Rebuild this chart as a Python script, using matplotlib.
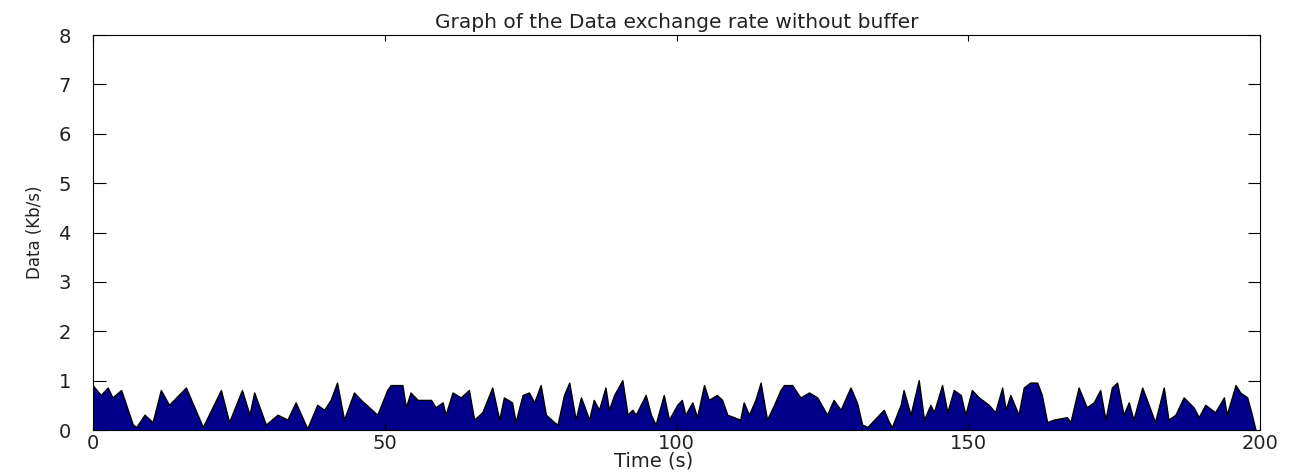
import matplotlib
matplotlib.use('Agg')
import matplotlib.pyplot as plt

# breakpoints of the data rate curve (time in s, rate in Kb/s)
time_s = [0, 1.4, 2.6, 3.4, 4.9, 6.9, 7.5, 8.9, 10.3, 11.7, 13.1, 16, 18.9, 22, 23.4,
          25.6, 26.9, 27.7, 29.7, 31.7, 33.4, 34.8, 36.8, 38.5, 39.7, 40.8, 41.9, 43.1,
          44.8, 46, 48.8, 50.5, 51.1, 53.1, 53.7, 54.5, 55.7, 58, 58.8, 60, 60.5, 61.7,
          63.1, 64.5, 65.4, 66.8, 68.5, 69.7, 70.5, 71.9, 72.5, 73.7, 74.8, 75.7, 76.8,
          77.7, 79.1, 79.7, 80.8, 81.7, 82.8, 83.7, 84.2, 85.1, 85.9, 86.8, 87.9, 88.5,
          89.4, 90.8, 91.7, 92.5, 93.1, 94.8, 95.7, 96.5, 97.9, 98.8, 100.2, 101, 101.6,
          102.8, 103.6, 104.8, 105.6, 107, 107.9, 108.8, 109.9, 111, 111.6, 112.5, 113.6,
          114.5, 115.6, 116.8, 117.9, 118.5, 119.9, 121.3, 122.8, 124.2, 125.9, 127,
          128.2, 129.9, 131, 131.9, 132.8, 133.6, 135.6, 136.5, 137, 138.5, 139, 140.2,
          141.6, 142.5, 143.6, 144.2, 145.6, 146.5, 147.6, 148.8, 149.6, 150.7, 151.9,
          153.6, 154.7, 155.9, 156.5, 157.3, 158.7, 159.6, 160.7, 161.9, 162.7, 163.6,
          164.7, 167, 167.6, 169, 170.4, 171.6, 172.7, 173.6, 174.7, 175.6, 176.7, 177.6,
          178.4, 179.9, 180.7, 182.1, 183.6, 184.4, 185.6, 187, 188.7, 189.6, 190.7,
          192.4, 193.9, 194.4, 195.9, 196.7, 197.9, 198.7, 199.3]
rate = [0.9, 0.7, 0.85, 0.65, 0.8, 0.1, 0.05, 0.3, 0.15, 0.8, 0.5, 0.85, 0.05, 0.8, 0.15,
        0.8, 0.3, 0.75, 0.1, 0.3, 0.2, 0.55, 0.02, 0.5, 0.4, 0.6, 0.95, 0.2,
        0.75, 0.6, 0.3, 0.8, 0.9, 0.9, 0.45, 0.75, 0.6, 0.6, 0.45, 0.55, 0.3, 0.75,
        0.65, 0.8, 0.2, 0.35, 0.85, 0.2, 0.65, 0.55, 0.15, 0.7, 0.75, 0.55, 0.9,
        0.3, 0.15, 0.1, 0.7, 0.95, 0.2, 0.65, 0.5, 0.2, 0.6, 0.4, 0.85, 0.4,
        0.7, 1.0, 0.3, 0.4, 0.3, 0.7, 0.3, 0.1, 0.7, 0.2, 0.5, 0.6, 0.3,
        0.55, 0.25, 0.9, 0.6, 0.7, 0.6, 0.3, 0.25, 0.2, 0.55, 0.3, 0.6,
        0.95, 0.2, 0.5, 0.8, 0.9, 0.9, 0.65, 0.75, 0.65, 0.3, 0.6,
        0.4, 0.85, 0.55, 0.1, 0.05, 0.15, 0.4, 0.15, 0.05, 0.5, 0.8, 0.3,
        1.0, 0.2, 0.5, 0.35, 0.9, 0.35, 0.8, 0.7, 0.3, 0.8, 0.65,
        0.5, 0.35, 0.85, 0.4, 0.7, 0.3, 0.85, 0.95, 0.95, 0.7, 0.15,
        0.2, 0.25, 0.15, 0.85, 0.45, 0.55, 0.8, 0.2, 0.85, 0.95, 0.3, 0.55,
        0.2, 0.85, 0.6, 0.15, 0.85, 0.2, 0.3, 0.65, 0.45, 0.25, 0.5,
        0.35, 0.65, 0.3, 0.9, 0.75, 0.65, 0.3, 0.0]

fig = plt.figure(figsize=(12.98, 4.75), dpi=100)
ax = fig.add_axes([0.0717, 0.0947, 0.8990, 0.8316])

ax.fill_between(time_s, rate, 0, facecolor='#00008a', edgecolor='none')
ax.plot(time_s, rate, color='black', linewidth=1.0)

ax.set_xlim(0, 200)
ax.set_ylim(0, 8)
ax.set_xticks([0, 50, 100, 150, 200])
ax.set_yticks(range(0, 9))
ax.tick_params(direction='in', top=True, right=True, labelsize=14, labelcolor='#222222')
ax.tick_params(axis='y', length=9, pad=16)
ax.tick_params(axis='x', length=4, pad=3)

ax.set_title('Graph of the Data exchange rate without buffer', fontsize=14.5, pad=5,
             color='#222222')
ax.set_xlabel('Time (s)', fontsize=14, labelpad=0, color='#222222')
ax.xaxis.set_label_coords(0.48, -0.055)
ax.set_ylabel('Data (Kb/s)', fontsize=12, family=['Liberation Sans Narrow', 'DejaVu Sans'],
              labelpad=10, color='#222222')

fig.savefig('out.png', dpi=100)
